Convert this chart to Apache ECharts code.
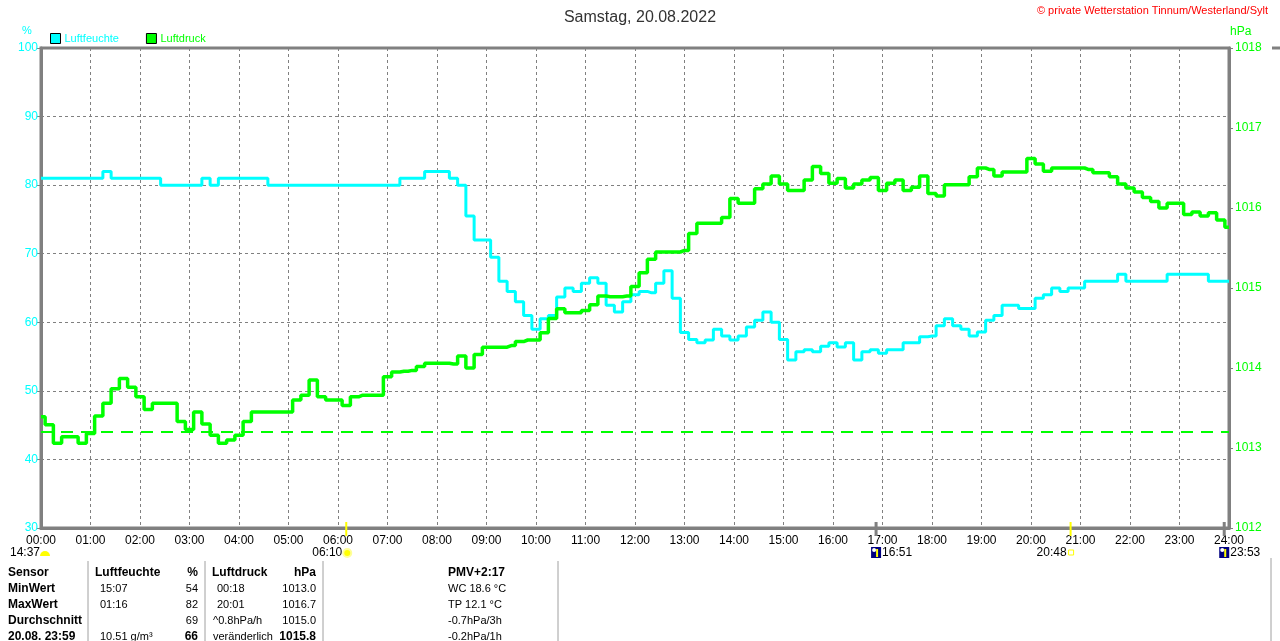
<!DOCTYPE html>
<html>
<head>
<meta charset="utf-8">
<title>Luftfeuchte / Luftdruck 20.08.2022</title>
<script src="https://cdn.jsdelivr.net/npm/echarts@6/dist/echarts.min.js"></script>
<style>
html, body { margin: 0; padding: 0; background: #fff; }
#chart { width: 1280px; height: 641px; }
</style>
</head>
<body>
<div id="chart"></div>
<script>
// Messwerte alle 10 Minuten, 00:00 .. 24:00
var stepMin = 10;
var humidity = [
    81, 81, 81, 81, 81, 81,
    81, 81, 82, 81, 81, 81,
    81, 81, 81, 80, 80, 80,
    80, 80, 81, 80, 81, 81,
    81, 81, 81, 81, 80, 80,
    80, 80, 80, 80, 80, 80,
    80, 80, 80, 80, 80, 80,
    80, 80, 81, 81, 81, 82,
    82, 82, 81, 80, 75.5, 72,
    72, 69.5, 66, 64.5, 63, 61,
    59, 60.5, 61, 63.7, 65, 64.5,
    65.7, 66.5, 65.7, 62.5, 61.5, 63,
    64, 64.5, 64.3, 65.7, 67.5, 63.5,
    58.5, 57.5, 57, 57.4, 59, 58,
    57.4, 58, 59.3, 60.3, 61.5, 60,
    57.5, 54.5, 55.7, 56, 55.7, 56.5,
    57, 56.4, 57, 54.5, 55.7, 56,
    55.5, 56, 56, 57, 57, 57.9,
    58, 59.5, 60.5, 59.5, 59, 58,
    58.6, 60.3, 61, 62.5, 62.5, 62,
    62, 63.5, 64, 65, 64.5, 65,
    65, 66, 66, 66, 66, 67,
    66, 66, 66, 66, 66, 67,
    67, 67, 67, 67, 66, 66,
    66
];
var pressure = [
    1013.39, 1013.29, 1013.06, 1013.14, 1013.14, 1013.06,
    1013.18, 1013.4, 1013.56, 1013.74, 1013.87, 1013.76,
    1013.64, 1013.48, 1013.56, 1013.56, 1013.56, 1013.33,
    1013.23, 1013.45, 1013.3, 1013.16, 1013.06, 1013.1,
    1013.16, 1013.33, 1013.45, 1013.45, 1013.45, 1013.45,
    1013.45, 1013.6, 1013.66, 1013.85, 1013.64, 1013.6,
    1013.6, 1013.53, 1013.64, 1013.66, 1013.66, 1013.66,
    1013.89, 1013.95, 1013.96, 1013.97, 1014.02, 1014.06,
    1014.06, 1014.06, 1014.05, 1014.15, 1014.0, 1014.17,
    1014.26, 1014.26, 1014.26, 1014.28, 1014.33, 1014.35,
    1014.35, 1014.44, 1014.62, 1014.74, 1014.69, 1014.69,
    1014.72, 1014.79, 1014.9, 1014.89, 1014.89, 1014.9,
    1015.02, 1015.19, 1015.36, 1015.45, 1015.45, 1015.45,
    1015.47, 1015.68, 1015.81, 1015.81, 1015.81, 1015.88,
    1016.12, 1016.06, 1016.06, 1016.24, 1016.3, 1016.4,
    1016.3, 1016.22, 1016.22, 1016.35, 1016.52, 1016.43,
    1016.31, 1016.37, 1016.25, 1016.3, 1016.35, 1016.38,
    1016.22, 1016.31, 1016.35, 1016.22, 1016.26, 1016.4,
    1016.18, 1016.15, 1016.29, 1016.29, 1016.29, 1016.39,
    1016.5, 1016.48, 1016.4, 1016.45, 1016.45, 1016.45,
    1016.62, 1016.55, 1016.46, 1016.5, 1016.5, 1016.5,
    1016.5, 1016.48, 1016.44, 1016.44, 1016.39, 1016.3,
    1016.25, 1016.2, 1016.13, 1016.08, 1016.0, 1016.06,
    1016.06, 1015.92, 1015.95, 1015.9, 1015.94, 1015.85,
    1015.76
];
var pressureRef = 1013.2;   // gestrichelte Linie

// Ereignisse unter der Zeitachse (Sonnenaufgang, Mond usw.)
var sunTimes = ['06:10', '20:48'];
var moonTimes = ['16:51', '23:53'];
var moonPhaseLabel = '14:37';

// Tabelle
var tableRows = [
    ['Sensor', 'Luftfeuchte', '%', 'Luftdruck', 'hPa', 'PMV+2:17'],
    ['MinWert', '15:07', '54', '00:18', '1013.0', 'WC 18.6 °C'],
    ['MaxWert', '01:16', '82', '20:01', '1016.7', 'TP 12.1 °C'],
    ['Durchschnitt', '', '69', '^0.8hPa/h', '1015.0', '-0.7hPa/3h'],
    ['20.08. 23:59', '10.51 g/m³', '66', 'veränderlich', '1015.8', '-0.2hPa/1h']
];

function toMin(s) {
    var p = s.split(':');
    return parseInt(p[0], 10) * 60 + parseInt(p[1], 10);
}
function pad(n) { return (n < 10 ? '0' : '') + n; }

var humData = humidity.map(function (v, i) { return [i * stepMin, v]; });
var presData = pressure.map(function (v, i) { return [i * stepMin, v]; });

var FONT = 'Liberation Sans, Arial, sans-serif';
var CYAN = '#00ffff';
var GREEN = '#00ff00';
var GRAY = '#808080';

var myChart = echarts.init(document.getElementById('chart'));

myChart.setOption({
    animation: false,
    backgroundColor: '#fff',
    title: {
        text: 'Samstag, 20.08.2022',
        left: 'center',
        top: 5,
        textStyle: { fontFamily: FONT, fontSize: 16, fontWeight: 'normal', color: '#333' }
    },
    legend: {
        left: 50,
        top: 33,
        padding: 0,
        icon: 'rect',
        itemWidth: 10,
        itemHeight: 10,
        itemGap: 27,
        itemStyle: { borderColor: '#000', borderWidth: 1 },
        textStyle: { fontFamily: FONT, fontSize: 11, padding: [0, 0, 0, -1] },
        data: [
            { name: 'Luftfeuchte', textStyle: { color: CYAN } },
            { name: 'Luftdruck', textStyle: { color: GREEN } }
        ]
    },
    grid: {
        left: 41, right: 51, top: 48, bottom: 113,
        outerBoundsMode: 'none',
        show: true,
        borderColor: GRAY,
        borderWidth: 3
    },
    xAxis: {
        type: 'value',
        min: 0,
        max: 1440,
        interval: 60,
        axisLine: { show: true, lineStyle: { color: GRAY, width: 3 } },
        axisTick: { show: false },
        axisLabel: {
            color: '#000', fontFamily: FONT, fontSize: 12, margin: 7,
            formatter: function (v) { return pad(Math.round(v / 60)) + ':00'; }
        },
        splitLine: { show: true, lineStyle: { color: GRAY, type: [3, 3], width: 1 } }
    },
    yAxis: [{
        type: 'value',
        min: 30,
        max: 100,
        interval: 10,
        position: 'left',
        axisLine: { show: true, lineStyle: { color: GRAY, width: 3 } },
        axisTick: { show: true, length: 4, lineStyle: { color: GRAY } },
        axisLabel: { color: CYAN, fontFamily: FONT, fontSize: 12, margin: 3 },
        splitLine: { show: true, lineStyle: { color: GRAY, type: [3, 3], width: 1 } }
    }, {
        type: 'value',
        min: 1012,
        max: 1018,
        interval: 1,
        position: 'right',
        axisLine: { show: true, lineStyle: { color: GRAY, width: 3 } },
        axisTick: { show: true, length: 4, lineStyle: { color: GRAY } },
        axisLabel: {
            color: GREEN, fontFamily: FONT, fontSize: 12, margin: 6,
            formatter: function (v) { return String(v); }
        },
        splitLine: { show: false }
    }],
    series: [{
        name: 'Luftfeuchte',
        type: 'line',
        step: 'middle',
        yAxisIndex: 0,
        showSymbol: false,
        color: CYAN,
        lineStyle: { color: CYAN, width: 3 },
        data: humData,
        z: 3
    }, {
        name: 'Luftdruck',
        type: 'line',
        step: 'middle',
        yAxisIndex: 1,
        showSymbol: false,
        color: GREEN,
        lineStyle: { color: GREEN, width: 3.5 },
        data: presData,
        z: 4,
        markLine: {
            silent: true,
            symbol: 'none',
            label: { show: false },
            lineStyle: { color: GREEN, type: [12, 8], width: 2 },
            data: [{ yAxis: pressureRef }]
        }
    }]
});

// Beschriftungen, Ereignisse und Tabelle
var g = [];
g.push({ type: 'text', left: 22, top: 25, style: { text: '%', fill: CYAN, font: '11px ' + FONT } });
g.push({ type: 'text', left: 1230, top: 26, style: { text: 'hPa', fill: GREEN, font: '12px ' + FONT } });
g.push({ type: 'text', right: 12, top: 5, style: { text: '© private Wetterstation Tinnum/Westerland/Sylt', fill: '#ff0000', font: '11px ' + FONT } });

var axisY = 528;
var evY = 553;
// Mondphase links
g.push({ type: 'text', x: 10, y: evY, style: { text: moonPhaseLabel, fill: '#000', font: '12px ' + FONT, verticalAlign: 'middle' } });
g.push({ type: 'sector', shape: { cx: 45, cy: evY + 3, r0: 0, r: 5, startAngle: Math.PI, endAngle: 2 * Math.PI }, style: { fill: '#ffff00' } });

sunTimes.forEach(function (t, k) {
    var x = myChart.convertToPixel({ xAxisIndex: 0 }, toMin(t));
    g.push({ type: 'line', shape: { x1: x, y1: axisY - 6, x2: x, y2: axisY + 8 }, style: { stroke: '#ffff00', lineWidth: 2 }, z: 10 });
    g.push({ type: 'text', x: x - 4, y: evY, style: { text: t, fill: '#000', font: '12px ' + FONT, align: 'right', verticalAlign: 'middle' } });
    if (k === 0) {
        g.push({ type: 'circle', shape: { cx: x + 1, cy: evY, r: 4 }, style: { fill: '#ffff00', stroke: '#ffff99', lineWidth: 2 } });
    } else {
        g.push({ type: 'rect', shape: { x: x - 2, y: evY - 3, width: 5, height: 5 }, style: { fill: 'none', stroke: '#ffff00', lineWidth: 1 } });
    }
});

moonTimes.forEach(function (t) {
    var x = myChart.convertToPixel({ xAxisIndex: 0 }, toMin(t));
    g.push({ type: 'line', shape: { x1: x + 1, y1: axisY - 6, x2: x + 1, y2: axisY + 8 }, style: { stroke: GRAY, lineWidth: 3 }, z: 10 });
    g.push({ type: 'rect', shape: { x: x - 4, y: evY - 6, width: 10, height: 11 }, style: { fill: '#000080' } });
    g.push({ type: 'circle', shape: { cx: x - 1, cy: evY - 3, r: 2 }, style: { fill: '#ffffff' } });
    g.push({ type: 'line', shape: { x1: x + 2, y1: evY - 4, x2: x + 2, y2: evY + 4 }, style: { stroke: '#ffff00', lineWidth: 2 } });
    g.push({ type: 'text', x: x + 7, y: evY, style: { text: t, fill: '#000', font: '12px ' + FONT, verticalAlign: 'middle' } });
});

// Tabelle unten
var sepX = [88, 205, 323, 558];
sepX.forEach(function (x) {
    g.push({ type: 'line', shape: { x1: x, y1: 561, x2: x, y2: 641 }, style: { stroke: '#a0a0a0', lineWidth: 1 } });
});
g.push({ type: 'line', shape: { x1: 1271, y1: 558, x2: 1271, y2: 641 }, style: { stroke: '#a0a0a0', lineWidth: 1 } });

var rowY = [573, 589, 605, 621, 637];
tableRows.forEach(function (row, r) {
    var y = rowY[r];
    var lastRow = r === tableRows.length - 1;
    var head = r === 0;
    function txt(x, s, align, bold) {
        if (!s) return;
        g.push({ type: 'text', x: x, y: y, style: {
            text: s, fill: '#000', align: align, verticalAlign: 'middle',
            font: (bold ? 'bold 12px ' : '11px ') + FONT
        } });
    }
    txt(8, row[0], 'left', true);
    txt(head ? 95 : 100, row[1], 'left', head);
    txt(198, row[2], 'right', head || lastRow);
    txt(head ? 212 : (r < 3 ? 217 : 213), row[3], 'left', head);
    txt(316, row[4], 'right', head || lastRow);
    txt(448, row[5], 'left', head);
});

// abgeschnittener Rest des Nachbarbildes am rechten Rand
g.push({ type: 'line', shape: { x1: 1272, y1: 48, x2: 1280, y2: 48 }, style: { stroke: GRAY, lineWidth: 3 } });

myChart.setOption({ graphic: g });
</script>
</body>
</html>
